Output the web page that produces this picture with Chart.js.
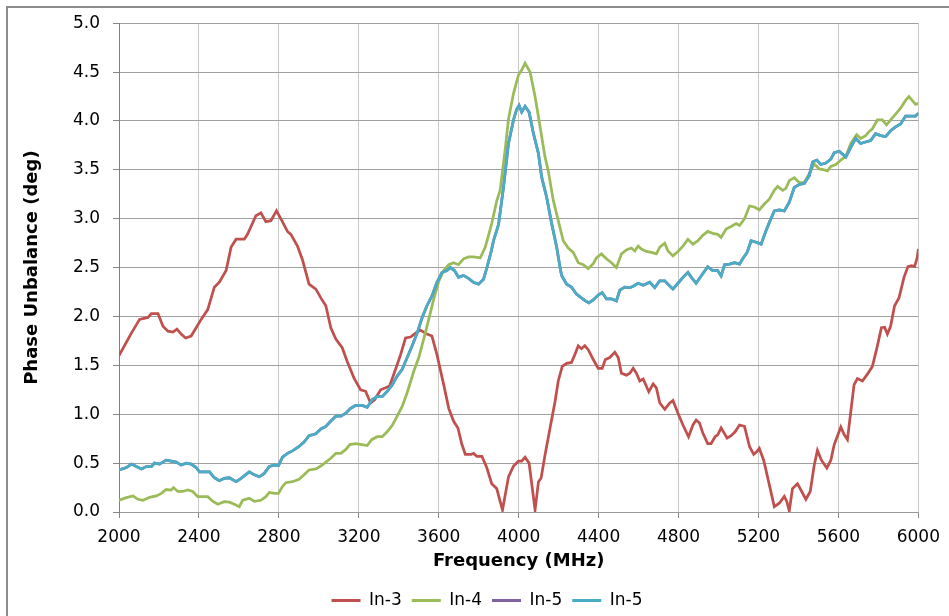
<!DOCTYPE html>
<html>
<head>
<meta charset="utf-8">
<script src="https://cdn.jsdelivr.net/npm/chart.js@4.4.1/dist/chart.umd.min.js"></script>
<style>
  html, body { margin: 0; padding: 0; background: #fff; }
  canvas { display: block; }
</style>
</head>
<body>
<canvas id="c" width="949" height="616"></canvas>
<script>
// ---- Data ----
const seriesNames = ['In-3', 'In-4', 'In-5', 'In-5'];
const seriesColors = ['#C0504D', '#9BBB59', '#8064A2', '#4BACC6'];
const xTickStep = 400;
const yTickStep = 0.5;

const in3Freq = [2000,2062,2103,2145,2162,2195,2220,2245,2270,2290,
2311,2333,2361,2386,2411,2444,2477,2502,2536,2561,
2586,2627,2643,2685,2710,2735,2760,2788,2815,2843,
2860,2893,2918,2951,2985,3010,3035,3060,3085,3117,
3142,3176,3209,3234,3259,3280,3309,3334,3354,3384,
3409,3434,3459,3484,3508,3541,3566,3591,3625,3650,
3674,3696,3716,3733,3763,3774,3791,3816,3841,3865,
3890,3919,3949,3974,3999,4015,4032,4052,4082,4099,
4112,4132,4157,4182,4198,4218,4240,4264,4281,4298,
4314,4331,4348,4373,4398,4418,4434,4456,4481,4498,
4514,4539,4556,4573,4589,4606,4623,4651,4673,4689,
4706,4731,4756,4772,4797,4822,4850,4872,4888,4905,
4921,4946,4963,4983,4996,5013,5043,5063,5083,5105,
5130,5155,5176,5193,5204,5226,5254,5279,5304,5329,
5342,5354,5370,5395,5415,5437,5459,5479,5495,5515,
5542,5562,5579,5612,5629,5645,5662,5678,5695,5720,
5745,5770,5795,5815,5831,5845,5861,5881,5903,5928,
5948,5966,5981,5994,6000];
const in3Val = [1.60,1.83,1.97,1.99,2.03,2.03,1.90,1.85,1.84,1.87,
1.82,1.78,1.80,1.885,1.97,2.07,2.30,2.35,2.47,2.71,
2.79,2.79,2.84,3.03,3.06,2.97,2.98,3.08,2.98,2.87,
2.84,2.72,2.58,2.33,2.28,2.19,2.11,1.885,1.77,1.68,
1.54,1.37,1.25,1.235,1.115,1.15,1.25,1.27,1.29,1.46,
1.61,1.78,1.79,1.83,1.86,1.82,1.80,1.61,1.30,1.06,
0.93,0.86,0.69,0.59,0.59,0.60,0.57,0.57,0.45,0.29,
0.24,0.02,0.36,0.47,0.52,0.52,0.56,0.50,0.02,0.31,
0.345,0.585,0.86,1.13,1.34,1.49,1.52,1.53,1.61,1.70,
1.67,1.70,1.66,1.56,1.47,1.47,1.56,1.58,1.635,1.58,
1.42,1.40,1.42,1.47,1.42,1.34,1.36,1.23,1.31,1.27,
1.115,1.05,1.115,1.14,1.01,0.89,0.77,0.89,0.94,0.91,
0.81,0.70,0.70,0.77,0.79,0.86,0.755,0.78,0.82,0.89,
0.875,0.67,0.59,0.62,0.65,0.53,0.28,0.055,0.09,0.16,
0.105,0.01,0.24,0.29,0.215,0.13,0.21,0.48,0.63,0.53,
0.45,0.53,0.69,0.87,0.79,0.74,1.03,1.30,1.365,1.34,
1.41,1.49,1.70,1.885,1.89,1.82,1.90,2.11,2.19,2.40,
2.51,2.52,2.51,2.60,2.69];

const in4Freq = [2000,2037,2070,2095,2120,2153,2187,2212,2236,2261,
2273,2294,2319,2344,2369,2394,2419,2444,2469,2494,
2527,2552,2577,2602,2619,2652,2677,2710,2735,2752,
2777,2798,2818,2835,2868,2901,2926,2951,2985,3010,
3035,3060,3085,3110,3135,3155,3184,3217,3242,3264,
3292,3317,3342,3367,3392,3417,3442,3475,3500,3525,
3550,3575,3600,3625,3650,3674,3699,3724,3749,3774,
3808,3833,3865,3890,3907,3932,3949,3974,3999,4015,
4032,4057,4082,4107,4132,4148,4173,4198,4223,4248,
4273,4298,4323,4348,4373,4389,4414,4439,4464,4489,
4514,4539,4564,4581,4598,4614,4639,4664,4689,4706,
4731,4747,4772,4797,4822,4847,4872,4897,4921,4946,
4971,4996,5013,5038,5063,5088,5105,5130,5155,5180,
5204,5229,5254,5279,5296,5321,5337,5354,5379,5404,
5429,5454,5479,5504,5529,5545,5562,5587,5612,5637,
5662,5691,5711,5736,5753,5770,5795,5820,5841,5861,
5886,5911,5936,5953,5969,5986,6000];
const in4Val = [0.12,0.147,0.164,0.13,0.12,0.15,0.164,0.19,0.23,0.225,
0.25,0.21,0.21,0.225,0.21,0.157,0.157,0.157,0.11,0.08,
0.105,0.10,0.08,0.055,0.12,0.14,0.11,0.12,0.157,0.20,
0.19,0.19,0.26,0.30,0.31,0.335,0.38,0.43,0.44,0.47,
0.51,0.55,0.60,0.60,0.64,0.69,0.70,0.69,0.68,0.74,
0.77,0.77,0.82,0.885,0.98,1.08,1.22,1.44,1.58,1.77,
1.97,2.18,2.36,2.47,2.53,2.55,2.53,2.59,2.61,2.61,
2.60,2.71,2.95,3.18,3.29,3.70,4.02,4.28,4.47,4.52,
4.59,4.50,4.25,3.94,3.63,3.49,3.19,2.98,2.775,2.70,
2.655,2.55,2.53,2.49,2.54,2.60,2.64,2.59,2.55,2.50,
2.64,2.68,2.70,2.67,2.72,2.69,2.665,2.655,2.64,2.71,
2.75,2.67,2.62,2.665,2.72,2.79,2.74,2.775,2.83,2.87,
2.85,2.84,2.81,2.895,2.92,2.95,2.93,3.00,3.13,3.12,
3.09,3.15,3.20,3.29,3.33,3.29,3.31,3.39,3.42,3.37,
3.37,3.46,3.56,3.51,3.50,3.49,3.535,3.555,3.60,3.64,
3.77,3.86,3.82,3.85,3.89,3.92,4.01,4.01,3.96,4.01,
4.07,4.13,4.21,4.25,4.21,4.17,4.18];

const in5Freq = [2000,2037,2062,2087,2112,2137,2162,2178,2203,2236,
2261,2286,2311,2336,2361,2386,2403,2428,2453,2477,
2502,2527,2552,2586,2611,2636,2652,2677,2702,2727,
2752,2777,2798,2818,2843,2868,2901,2926,2951,2985,
3010,3035,3060,3085,3110,3135,3159,3184,3217,3242,
3267,3292,3317,3342,3367,3392,3417,3442,3467,3492,
3517,3541,3566,3591,3616,3641,3658,3679,3699,3724,
3749,3774,3799,3824,3841,3863,3874,3899,3924,3949,
3974,3990,4002,4015,4032,4052,4074,4099,4115,4140,
4165,4190,4207,4215,4240,4264,4289,4314,4334,4351,
4373,4398,4418,4439,4464,4489,4506,4531,4556,4573,
4598,4623,4656,4681,4706,4731,4747,4772,4797,4822,
4847,4864,4888,4913,4946,4971,4996,5013,5030,5055,
5080,5105,5121,5143,5163,5188,5213,5238,5254,5279,
5304,5329,5354,5379,5404,5429,5454,5471,5492,5512,
5537,5562,5579,5604,5637,5662,5686,5711,5736,5761,
5786,5811,5836,5861,5886,5911,5936,5961,5986,6000];
const in5Val = [0.43,0.455,0.49,0.465,0.44,0.465,0.465,0.50,0.49,0.53,
0.52,0.51,0.48,0.50,0.49,0.455,0.41,0.41,0.41,0.35,
0.32,0.345,0.35,0.31,0.345,0.385,0.41,0.38,0.36,0.395,
0.465,0.48,0.475,0.56,0.60,0.625,0.67,0.715,0.78,0.80,
0.85,0.875,0.93,0.98,0.98,1.01,1.06,1.09,1.09,1.07,
1.15,1.18,1.18,1.235,1.30,1.39,1.46,1.58,1.70,1.83,
1.99,2.11,2.21,2.35,2.45,2.47,2.50,2.47,2.40,2.42,
2.39,2.35,2.33,2.38,2.50,2.67,2.775,2.94,3.32,3.77,
4.01,4.12,4.16,4.09,4.15,4.09,3.87,3.665,3.425,3.22,
2.95,2.71,2.50,2.42,2.33,2.30,2.23,2.19,2.16,2.14,
2.17,2.22,2.245,2.18,2.18,2.16,2.27,2.30,2.295,2.31,
2.34,2.32,2.35,2.295,2.365,2.365,2.33,2.28,2.34,2.40,
2.45,2.40,2.34,2.415,2.51,2.47,2.47,2.415,2.53,2.535,
2.55,2.535,2.59,2.655,2.775,2.76,2.74,2.88,2.96,3.08,
3.09,3.08,3.17,3.32,3.35,3.36,3.44,3.58,3.60,3.555,
3.57,3.61,3.675,3.69,3.63,3.73,3.82,3.77,3.785,3.80,
3.87,3.85,3.84,3.90,3.94,3.97,4.05,4.05,4.05,4.08];

// In-5 appears twice in the legend; the purple trace lies hidden under the blue one.
const seriesFreq = [in3Freq, in4Freq, in5Freq, in5Freq];
const seriesVal = [in3Val, in4Val, in5Val, in5Val];

function toPoints(xs, ys) { return xs.map((x, i) => ({ x: x, y: ys[i] })); }

const datasets = seriesNames.map((name, i) => ({
  label: name,
  data: toPoints(seriesFreq[i], seriesVal[i]),
  borderColor: seriesColors[i],
  backgroundColor: seriesColors[i],
  borderWidth: 2.75,
  pointRadius: 0,
  tension: 0,
  order: 3 - i   // later series drawn on top, like the original
}));

const framePlugin = {
  id: 'frame',
  beforeDraw(chart) {
    const ctx = chart.ctx;
    ctx.save();
    ctx.fillStyle = '#ffffff';
    ctx.fillRect(0, 0, chart.width, chart.height);
    ctx.strokeStyle = '#8c8c8c';
    ctx.lineWidth = 2;
    ctx.strokeRect(7, 7, chart.width + 20, chart.height + 20);
    ctx.restore();
  }
};

// Shift the legend row to the right, where the original centres it.
const legendShiftPlugin = {
  id: 'legendShift',
  afterLayout(chart) {
    if (chart.legend) {
      chart.legend.left += 26;
      chart.legend.right += 26;
    }
  }
};

Chart.defaults.font.family = "'DejaVu Sans', Verdana, sans-serif";
Chart.defaults.color = '#000';

new Chart(document.getElementById('c'), {
  type: 'line',
  data: { datasets: datasets },
  plugins: [framePlugin, legendShiftPlugin],
  options: {
    responsive: false,
    animation: false,
    devicePixelRatio: 1,
    layout: { padding: { top: 23, right: 27, left: 0, bottom: -3 } },
    plugins: {
      tooltip: { enabled: false },
      legend: {
        position: 'bottom',
        labels: {
          boxWidth: 29,
          boxHeight: 3,
          padding: 10,
          color: '#000',
          font: { size: 17 },
          sort: (a, b) => a.datasetIndex - b.datasetIndex,
          generateLabels(chart) {
            const items = Chart.defaults.plugins.legend.labels.generateLabels(chart);
            items.forEach(it => { it.lineWidth = 0; it.fillStyle = it.strokeStyle; });
            return items;
          }
        }
      }
    },
    scales: {
      x: {
        type: 'linear',
        min: 2000,
        max: 6000,
        afterFit(s) { s.height = 70; },
        ticks: { stepSize: xTickStep, font: { size: 17 }, color: '#000', padding: 9, maxRotation: 0, autoSkip: false, callback: v => String(v) },
        grid: { color: '#c8c8c8', tickLength: 6, tickColor: '#888888' },
        border: { color: '#999999' },
        title: { display: true, text: 'Frequency (MHz)', font: { size: 18, weight: 'bold' }, color: '#000', padding: { top: 0, bottom: 10 } }
      },
      y: {
        min: 0,
        max: 5,
        afterFit(s) { s.width = 119; },
        ticks: { stepSize: yTickStep, font: { size: 17 }, color: '#000', padding: 13, callback: v => Number(v).toFixed(1) },
        grid: { color: '#a0a0a0', tickLength: 6, tickColor: '#888888' },
        border: { color: '#808080' },
        title: { display: true, text: 'Phase Unbalance (deg)', font: { size: 18, weight: 'bold' }, color: '#000', padding: { top: 22, bottom: 0 } }
      }
    }
  }
});
</script>
</body>
</html>
